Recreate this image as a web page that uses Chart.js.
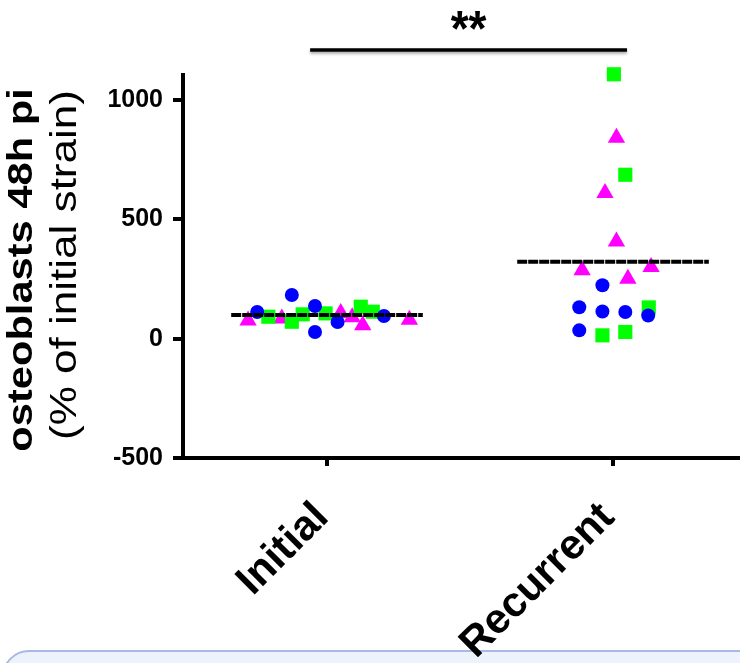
<!DOCTYPE html>
<html>
<head>
<meta charset="utf-8">
<script src="https://cdn.jsdelivr.net/npm/chart.js@4"></script>
<style>
  html, body { margin: 0; padding: 0; background: #ffffff; }
  #wrap { position: relative; width: 740px; height: 663px; }
  canvas { display: block; }
</style>
</head>
<body>
<div id="wrap"><canvas id="c" width="740" height="663"></canvas></div>
<script>
// ---- data ----
const categories = ['Initial', 'Recurrent'];
const yTicks = [-500, 0, 500, 1000];

// group index (0 = Initial, 1 = Recurrent), horizontal jitter, value
const blueGroup  = [0, 0, 0, 0, 0, 0, 1, 1, 1, 1, 1, 1];
const blueJitter = [-0.244, -0.123, -0.042, -0.042, 0.037, 0.199, -0.037, -0.118, -0.037, 0.043, 0.123, -0.118];
const blueValues = [112, 183, 137, 28, 70, 95, 224, 132, 114, 112, 97, 35];

const greenGroup  = [0, 0, 0, 0, 0, 0, 1, 1, 1, 1, 1];
const greenJitter = [-0.205, -0.123, -0.085, -0.005, 0.118, 0.160, 0.003, 0.043, 0.125, -0.037, 0.043];
const greenValues = [92, 71, 102, 106, 134, 113, 1108, 687, 131, 14, 28];

const magentaGroup  = [0, 0, 0, 0, 0, 0, 1, 1, 1, 1, 1, 1];
const magentaJitter = [-0.276, -0.158, 0.048, 0.088, 0.125, 0.288, 0.012, -0.028, 0.012, -0.108, 0.133, 0.052];
const magentaValues = [76, 85, 108, 90, 56, 79, 842, 611, 407, 287, 300, 251];

const meanValues = [99, 322];
const meanHalfWidth = 0.335;

const sigFrom = 0, sigTo = 1, sigLabel = '**';

// ---- build datasets ----
function pts(g, j, v) { return v.map((val, i) => ({ x: g[i] + j[i], y: val })); }
const meanDatasets = meanValues.map((m, i) => ({
  type: 'line',
  data: [{ x: i - meanHalfWidth, y: m }, { x: i + meanHalfWidth, y: m }],
  borderColor: '#000000',
  borderWidth: 4,
  borderDash: [10, 1],
  pointRadius: 0,
  fill: false,
  clip: false,
  order: 0
}));

const FONT = '"Liberation Sans", Arial, Helvetica, sans-serif';

const decor = {
  id: 'decor',
  beforeDraw(chart) {
    const ctx = chart.ctx;
    ctx.save();
    ctx.beginPath();
    ctx.roundRect(3, 651, 800, 60, 26);
    ctx.fillStyle = '#edf2fc';
    ctx.fill();
    ctx.lineWidth = 2;
    ctx.strokeStyle = '#a9b9e3';
    ctx.stroke();
    ctx.restore();
  },
  afterDraw(chart) {
    const ctx = chart.ctx;
    const xs = chart.scales.x;
    // y title (two lines, rotated)
    const midY = 270;
    ctx.save();
    ctx.fillStyle = '#000';
    ctx.textAlign = 'center';
    ctx.textBaseline = 'middle';
    ctx.translate(22, midY);
    ctx.rotate(-Math.PI / 2);
    ctx.scale(1.19, 1);
    ctx.font = 'bold 35px ' + FONT;
    ctx.fillText('osteoblasts 48h pi', 0, 0);
    ctx.restore();
    ctx.save();
    ctx.fillStyle = '#000';
    ctx.textAlign = 'center';
    ctx.textBaseline = 'middle';
    ctx.translate(66, midY - 5);
    ctx.rotate(-Math.PI / 2);
    ctx.scale(1.19, 1);
    ctx.font = '37px ' + FONT;
    ctx.fillText('(% of initial strain)', 0, 0);
    ctx.restore();
    // significance bar
    const x1 = xs.getPixelForValue(sigFrom - 0.059);
    const x2 = xs.getPixelForValue(sigTo + 0.049);
    const yb = 50;
    ctx.save();
    ctx.shadowColor = 'rgba(0,0,0,0.35)';
    ctx.shadowBlur = 3;
    ctx.shadowOffsetY = 2;
    ctx.strokeStyle = '#000';
    ctx.lineWidth = 3.5;
    ctx.beginPath();
    ctx.moveTo(x1, yb);
    ctx.lineTo(x2, yb);
    ctx.stroke();
    ctx.restore();
    ctx.save();
    ctx.fillStyle = '#000';
    ctx.textAlign = 'center';
    ctx.textBaseline = 'middle';
    ctx.font = 'bold 46px ' + FONT;
    ctx.translate((x1 + x2) / 2, 32);
    ctx.scale(1, 1.1);
    ctx.fillText(sigLabel, 0, 0);
    ctx.restore();
  }
};

new Chart(document.getElementById('c'), {
  type: 'scatter',
  data: {
    datasets: [
      ...meanDatasets,
      { label: 'blue', data: pts(blueGroup, blueJitter, blueValues), pointStyle: 'circle', pointRadius: 7, pointHoverRadius: 7,
        backgroundColor: '#0000ff', borderColor: '#0000ff', borderWidth: 0, clip: false, order: 1 },
      { label: 'green', data: pts(greenGroup, greenJitter, greenValues), pointStyle: 'rect', pointRadius: 10, pointHoverRadius: 10,
        backgroundColor: '#00ff00', borderColor: '#00ff00', borderWidth: 0, clip: false, order: 2 },
      { label: 'magenta', data: pts(magentaGroup, magentaJitter, magentaValues), pointStyle: 'triangle', pointRadius: 10, pointHoverRadius: 10,
        backgroundColor: '#ff00ff', borderColor: '#ff00ff', borderWidth: 0, clip: false, order: 3 }
    ]
  },
  options: {
    responsive: false,
    animation: false,
    events: [],
    layout: { autoPadding: false, padding: { top: 75, left: 0, right: 0, bottom: 0 } },
    plugins: { legend: { display: false }, tooltip: { enabled: false }, title: { display: false } },
    scales: {
      x: {
        type: 'linear',
        min: -0.5035,
        max: 1.444,
        afterBuildTicks: s => { s.ticks = categories.map((c, i) => ({ value: i })); },
        afterFit: s => { s.height = 205; s.paddingLeft = 0; s.paddingRight = 0; },
        ticks: {
          callback: v => categories[v],
          maxRotation: 45, minRotation: 45,
          autoSkip: false,
          color: '#000',
          padding: 27,
          labelOffset: -5,
          font: { family: FONT, size: 42, weight: 'bold' }
        },
        grid: { display: true, drawOnChartArea: false, drawTicks: true, tickLength: 8, lineWidth: 4, tickWidth: 4, tickColor: '#000' },
        border: { display: true, color: '#000', width: 4 }
      },
      y: {
        type: 'linear',
        min: -500,
        max: 1105,
        afterBuildTicks: s => { s.ticks = yTicks.map(v => ({ value: v })); },
        afterFit: s => { s.width = 183; s.paddingTop = 0; s.paddingBottom = 0; },
        ticks: {
          callback: v => String(v),
          color: '#000',
          padding: 10,
          font: { family: FONT, size: 25, weight: 'bold' }
        },
        grid: { display: true, drawOnChartArea: false, drawTicks: true, tickLength: 10, lineWidth: 4, tickWidth: 4, tickColor: '#000' },
        border: { display: true, color: '#000', width: 4 }
      }
    }
  },
  plugins: [decor]
});
</script>
</body>
</html>
